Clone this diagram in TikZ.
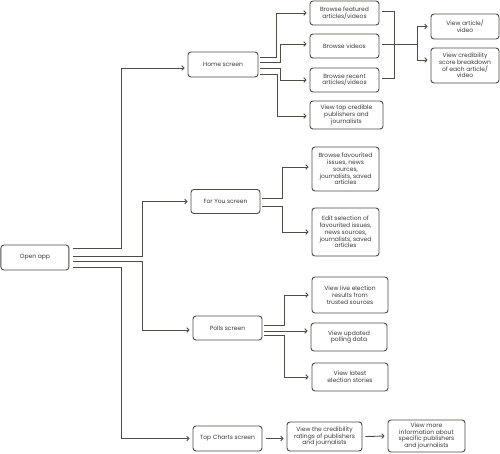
\documentclass[tikz,border=0pt]{standalone}
\usepackage{fontspec}
\setmainfont{Poppins}
\usepackage{tikz}
\usetikzlibrary{arrows.meta,positioning}
\definecolor{edgegray}{HTML}{4A4E45}
\definecolor{textgray}{HTML}{3A3A3A}
\tikzset{
  screen/.style={
    draw=edgegray,
    rounded corners=3pt,
    line width=0.9pt,
    minimum height=24pt,
    align=center,
    font=\fontsize{6}{6.8}\selectfont,
    text=textgray,
    inner sep=1pt,
    fill=white
  },
  flow/.style={-{Straight Barb[length=2.2pt,width=4.8pt]}, line width=0.9pt, draw=edgegray, shorten >=3pt},
  link/.style={line width=0.9pt, draw=edgegray}
}
\begin{document}
\begin{tikzpicture}[x=1pt,y=-1pt]
\useasboundingbox (0,0) rectangle (500,453);

% Screens
\node[screen, minimum width=68pt, minimum height=25pt] (open) at (34.9,257.5) {Open app};
\node[screen, minimum width=70pt, minimum height=25pt] (home) at (223,64.5) {Home screen};
\node[screen, minimum width=69pt] (foryou) at (225.5,201.5) {For You screen};
\node[screen, minimum width=69pt] (polls) at (227.5,328) {Polls screen};
\node[screen, minimum width=69pt, minimum height=25pt] (topcharts) at (227.5,438.5) {Top Charts screen};

% Home screen tasks
\node[screen, minimum width=69pt] (feat) at (344.5,13) {Browse featured\\articles/videos};
\node[screen, minimum width=69pt] (videos) at (344.5,46) {Browse videos};
\node[screen, minimum width=69pt] (recent) at (344.5,80) {Browse recent\\articles/videos};
\node[screen, minimum width=73pt, minimum height=28pt] (topcred) at (346.5,115) {View top credible\\publishers and\\journalists};
\node[screen, minimum width=68pt, minimum height=25pt] (article) at (465,26.5) {View article/\\video};
\node[screen, minimum width=68pt, minimum height=35pt] (credscore) at (465,65.5) {View credibility\\score breakdown\\of each article/\\video};

% For You tasks
\node[screen, minimum width=67pt, minimum height=44pt] (favbrowse) at (345.5,169) {Browse favourited\\issues, news\\sources,\\journalists, saved\\articles};
\node[screen, minimum width=67pt, minimum height=48pt] (favedit) at (345.5,232) {Edit selection of\\favourited issues,\\news sources,\\journalists, saved\\articles};

% Polls tasks
\node[screen, minimum width=76pt, minimum height=36pt] (live) at (350,295) {View live election\\results from\\trusted sources};
\node[screen, minimum width=76pt, minimum height=28pt] (updated) at (349,337) {View updated\\polling data};
\node[screen, minimum width=76pt, minimum height=28pt] (latest) at (350,377) {View latest\\election stories};

% Top Charts tasks
\node[screen, minimum width=75pt, minimum height=29pt] (ratings) at (324.5,436.5) {View the credibility\\ratings of publishers\\and journalists};
\node[screen, minimum width=77pt, minimum height=32pt] (more) at (426.5,436) {View more\\information about\\specific publishers\\and journalists};

% Open app branches
\draw[flow] ([xshift=4pt,yshift=9.5pt]open.east) -| (121,68) -- ([yshift=-3.5pt]home.west);
\draw[flow] ([xshift=4pt,yshift=1.5pt]open.east) -| (142,201.5) -- (foryou.west);
\draw[flow] ([xshift=4pt,yshift=-3.5pt]open.east) -| (142,330) -- ([yshift=-2pt]polls.west);
\draw[flow] ([xshift=4pt,yshift=-9.5pt]open.east) -| (121,438.5) -- (topcharts.west);

% Home screen branches
\draw[flow] ([xshift=2pt,yshift=7.5pt]home.east) -| (276,13) -- (feat.west);
\draw[flow] ([xshift=2pt,yshift=2.5pt]home.east) -| (280,44) -- ([yshift=2pt]videos.west);
\draw[flow] ([xshift=2pt,yshift=-3.5pt]home.east) -| (280,80) -- (recent.west);
\draw[flow] ([xshift=2pt,yshift=-9.5pt]home.east) -| (277,116) -- ([yshift=-1pt]topcred.west);

% Browse tasks lead to article views
\draw[link] ([xshift=3pt,yshift=2pt]feat.east) -| (394,78) -- ([xshift=3pt,yshift=2pt]recent.east);
\coordinate (hub) at (417,44);
\draw[link] ([xshift=3pt,yshift=2pt]videos.east) -- (hub);
\draw[flow] (hub) |- (article.west);
\draw[flow] (hub) |- ([yshift=5.5pt]credscore.west);

% For You branches
\draw[flow] ([xshift=2pt,yshift=3.5pt]foryou.east) -| (282,167) -- ([yshift=2pt]favbrowse.west);
\draw[flow] ([xshift=2pt,yshift=-4.5pt]foryou.east) -| (282,232) -- (favedit.west);

% Polls branches
\draw[flow] ([xshift=2pt,yshift=3pt]polls.east) -| (284,295) -- (live.west);
\draw[flow] ([xshift=2pt,yshift=-3pt]polls.east) -- ([yshift=6pt]updated.west);
\draw[flow] ([xshift=2pt,yshift=-7pt]polls.east) -| (284,377) -- (latest.west);

% Top Charts chain
\draw[flow] ([xshift=4pt]topcharts.east) -- ([yshift=-2pt]ratings.west);
\draw[flow] ([xshift=3pt]ratings.east) -- (more.west);

\end{tikzpicture}
\end{document}
